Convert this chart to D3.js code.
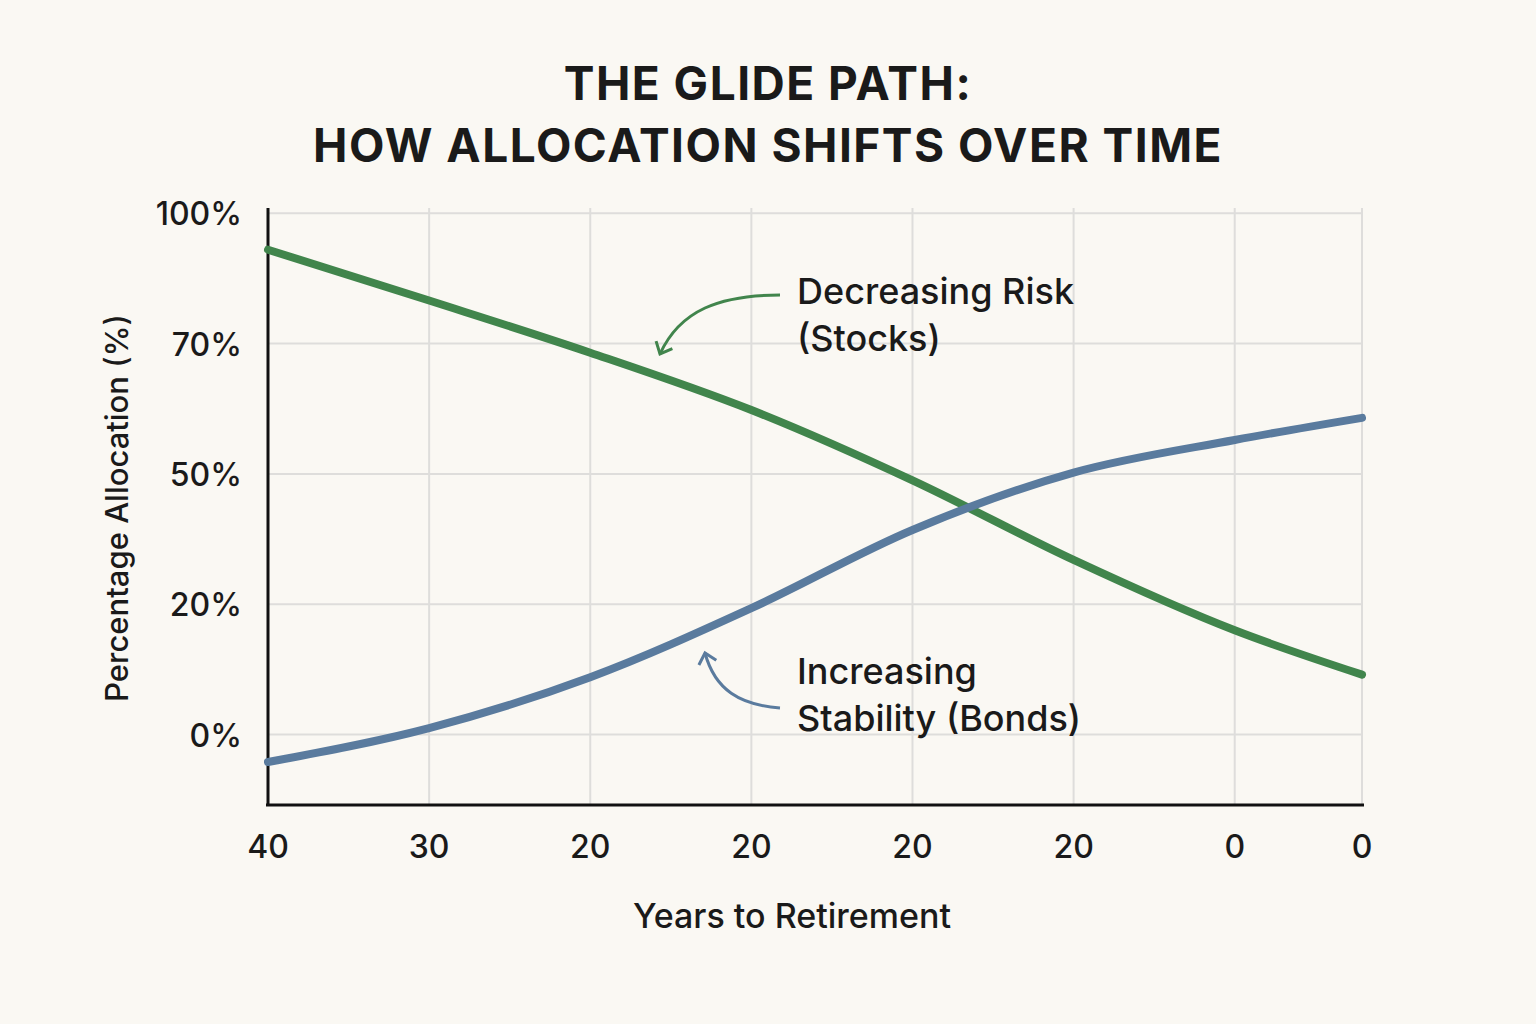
<!DOCTYPE html><html><head><meta charset="utf-8"><script src="https://cdn.jsdelivr.net/npm/d3@7"></script>
<style>body{margin:0;background:#faf8f3}</style></head><body><svg id="c" width="1536" height="1024"></svg>
<script>
const xLabels=["40","30","20","20","20","20","0","0"];
const xIdx=[0,1,2,3,4,5,6,6.79];
const yLabels=["0%","20%","50%","70%","100%"];
const yIdx=[0,1,2,3,4];
const stocks=[3.72,3.33,2.93,2.49,1.95,1.34,0.80,0.46];
const bonds=[-0.21,0.05,0.44,0.97,1.57,2.01,2.26,2.43];
const svg=d3.select("#c");
svg.append("rect").attr("width",1536).attr("height",1024).attr("fill","#faf8f3");
const x=d3.scaleLinear().domain([0,6.79]).range([268,1362]);
const y=d3.scaleLinear().domain([-0.54,4.04]).range([805,208]);
const f="Inter,'Open Sans',sans-serif";
const title=["THE GLIDE PATH:","HOW ALLOCATION SHIFTS OVER TIME"];
title.forEach((t,i)=>svg.append("text").attr("x",768).attr("y",100+62*i).attr("text-anchor","middle").attr("font-family",f).attr("font-weight",700).attr("font-size",46).attr("letter-spacing",1.5).attr("fill","#1a1a1a").text(t));
const g=svg.append("g");
g.selectAll(".v").data(xIdx).join("line").attr("x1",d=>x(d)).attr("x2",d=>x(d)).attr("y1",208).attr("y2",805).attr("stroke","#dedddb").attr("stroke-width",2);
g.selectAll(".h").data(yIdx).join("line").attr("x1",268).attr("x2",1362).attr("y1",d=>y(d)).attr("y2",d=>y(d)).attr("stroke","#dedddb").attr("stroke-width",2);
g.append("line").attr("x1",268).attr("x2",268).attr("y1",208).attr("y2",805).attr("stroke","#111").attr("stroke-width",3);
g.append("line").attr("x1",266).attr("x2",1364).attr("y1",805).attr("y2",805).attr("stroke","#111").attr("stroke-width",3);
g.selectAll(".yl").data(yIdx).join("text").attr("x",242).attr("y",d=>y(d)+12).attr("text-anchor","end").attr("font-family",f).attr("font-weight",500).attr("font-size",32).attr("fill","#1a1a1a").text((d,i)=>yLabels[i]);
g.selectAll(".xl").data(xIdx).join("text").attr("x",d=>x(d)).attr("y",858).attr("text-anchor","middle").attr("font-family",f).attr("font-weight",500).attr("font-size",32).attr("fill","#1a1a1a").text((d,i)=>xLabels[i]);
svg.append("text").attr("x",792).attr("y",928).attr("text-anchor","middle").attr("font-family",f).attr("font-weight",500).attr("font-size",34).attr("fill","#1a1a1a").text("Years to Retirement");
svg.append("text").attr("transform","translate(128,508) rotate(-90)").attr("text-anchor","middle").attr("font-family",f).attr("font-weight",500).attr("font-size",31).attr("fill","#1a1a1a").text("Percentage Allocation (%)");
const line=d3.line().x((d,i)=>x(xIdx[i])).y(d=>y(d)).curve(d3.curveMonotoneX);
svg.append("path").attr("d",line(stocks)).attr("fill","none").attr("stroke","#41854c").attr("stroke-width",8).attr("stroke-linecap","round");
svg.append("path").attr("d",line(bonds)).attr("fill","none").attr("stroke","#5a7b9e").attr("stroke-width",8).attr("stroke-linecap","round");
function ann(pathD,color,ax,ay,angle){
 svg.append("path").attr("d",pathD).attr("fill","none").attr("stroke",color).attr("stroke-width",3);
 svg.append("path").attr("d","M-10,-9 L0,0 L-10,9").attr("transform",`translate(${ax},${ay}) rotate(${angle})`).attr("fill","none").attr("stroke",color).attr("stroke-width",3);
}
ann("M780,295 C720,295 680,310 660,354","#41854c",660,354,115);
ann("M780,708 C740,705 715,690 705,653","#5a7b9e",705,653,-105);
const t1=svg.append("text").attr("font-family",f).attr("font-weight",500).attr("font-size",36).attr("fill","#1a1a1a");
t1.append("tspan").attr("x",797).attr("y",304).text("Decreasing Risk");
t1.append("tspan").attr("x",797).attr("y",351).text("(Stocks)");
const t2=svg.append("text").attr("font-family",f).attr("font-weight",500).attr("font-size",36).attr("fill","#1a1a1a");
t2.append("tspan").attr("x",797).attr("y",684).text("Increasing");
t2.append("tspan").attr("x",797).attr("y",731).text("Stability (Bonds)");
</script></body></html>
